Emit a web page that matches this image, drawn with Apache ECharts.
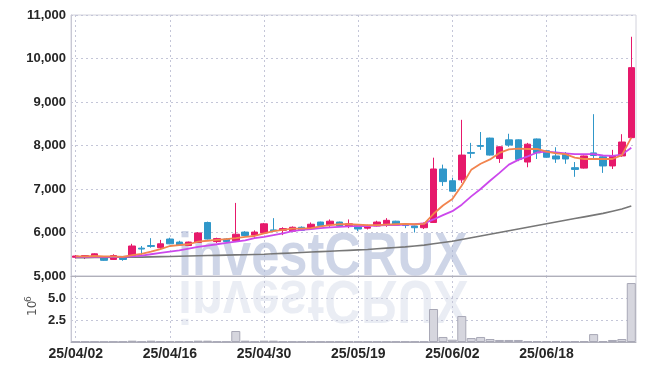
<!DOCTYPE html>
<html><head><meta charset="utf-8">
<script src="https://cdn.jsdelivr.net/npm/echarts@6/dist/echarts.min.js"></script>
<style>html,body{margin:0;padding:0;background:#fff}#c{width:645px;height:371px}</style>
</head><body><div id="c"></div>
<script>
const dates = ['25/04/02','25/04/03','25/04/04','25/04/07','25/04/08','25/04/09','25/04/10','25/04/11','25/04/14','25/04/15',
'25/04/16','25/04/17','25/04/18','25/04/21','25/04/22','25/04/23','25/04/24','25/04/25','25/04/28','25/04/29',
'25/04/30','25/05/02','25/05/07','25/05/08','25/05/09','25/05/12','25/05/13','25/05/14','25/05/15','25/05/16',
'25/05/19','25/05/20','25/05/21','25/05/22','25/05/23','25/05/26','25/05/27','25/05/28','25/05/29','25/05/30',
'25/06/02','25/06/04','25/06/05','25/06/09','25/06/10','25/06/11','25/06/12','25/06/13','25/06/16','25/06/17',
'25/06/18','25/06/19','25/06/20','25/06/23','25/06/24','25/06/25','25/06/26','25/06/27','25/06/30','25/07/01'];
const opens  = [5430,5440,5450,5430,5380,5450,5450,5640,5700,5650, 5850,5780,5700,5770,6230,5790,5850,5810,6010,5940,
                5990,6060,6050,6030,6120,6090,6240,6180,6240,6140, 6170,6100,6150,6200,6260,6190,6150,6110,6230,7460,
                7190,7210,7840,8000,8170,7700,8130,8130,7620,8150, 7880,7760,7800,7490,7480,7830,7740,7530,7760,8180];
const closes = [5460,5470,5510,5360,5470,5380,5690,5620,5680,5740, 5740,5710,5780,5990,5850,5860,5790,5960,5930,6010,
                6200,6040,6090,6120,6050,6190,6160,6260,6150,6200, 6080,6130,6240,6280,6170,6160,6110,6210,7460,7170,
                6950,7780,7820,7980,7780,7970,8010,7680,8030,7830, 7730,7690,7690,7450,7760,7770,7530,7760,8080,9790];
const lows   = [5400,5390,5440,5350,5370,5350,5440,5490,5650,5610, 5730,5700,5690,5760,5840,5760,5770,5780,5920,5880,
                5980,6030,5940,6010,6040,6080,6150,6130,6140,6100, 6030,6070,6140,6130,6160,6100,6000,6080,6220,7070,
                6940,7140,7710,7900,7770,7600,7970,7640,7500,7690, 7720,7600,7580,7280,7470,7680,7370,7460,7740,8170];
const highs  = [5480,5480,5520,5440,5500,5460,5740,5690,5870,5830, 5880,5810,5790,6010,6250,5880,5870,6680,6030,6050,
                6220,6330,6120,6140,6140,6230,6250,6300,6250,6300, 6180,6180,6270,6330,6270,6200,6160,6230,7720,7560,
                7260,8590,8060,8310,8180,7980,8270,8140,8060,8160, 7900,7960,7850,7620,7770,8720,7760,7900,8260,10500];
const ma5  = [5450,5450,5460,5450,5450,5440,5480,5510,5560,5620, 5690,5710,5730,5790,5810,5830,5850,5870,5900,5920,
              5980,6030,6060,6090,6090,6100,6140,6170,6190,6190, 6180,6170,6170,6180,6190,6200,6190,6200,6430,6620,
              6770,7080,7440,7580,7680,7830,7910,7930,7920,7920, 7860,7820,7800,7720,7690,7690,7690,7690,7780,8180];
const ma10 = [5440,5440,5440,5440,5440,5440,5450,5470,5500,5530, 5560,5590,5630,5670,5700,5730,5760,5790,5820,5870,
              5900,5940,5980,6030,6060,6080,6100,6120,6130,6140, 6150,6150,6160,6170,6170,6180,6190,6210,6300,6400,
              6490,6640,6830,7000,7190,7370,7560,7670,7750,7840, 7860,7840,7820,7800,7800,7800,7770,7760,7790,7950];
const maLong = [5420,5420,5425,5425,5430,5430,5435,5435,5440,5445, 5450,5455,5460,5465,5470,5475,5480,5485,5490,5495,
                5500,5510,5520,5530,5540,5550,5560,5570,5580,5590, 5600,5610,5625,5640,5655,5670,5690,5710,5740,5770,
                5800,5840,5880,5920,5960,6000,6040,6080,6120,6160, 6200,6240,6280,6320,6360,6400,6440,6490,6540,6610];
const volume = [0.05,0.05,0.05,0.04,0.05,0.05,0.15,0.05,0.15,0.06, 0.06,0.06,0.06,0.15,0.15,0.05,0.05,1.25,0.15,0.05,
                0.15,0.15,0.05,0.05,0.05,0.05,0.05,0.05,0.05,0.05, 0.05,0.05,0.05,0.05,0.05,0.05,0.05,0.05,3.75,0.57,
                0.26,2.95,0.45,0.57,0.34,0.23,0.23,0.23,0.11,0.11, 0.11,0.11,0.03,0.10,0.10,0.90,0.10,0.23,0.34,6.70];
const priceMin = 5000, priceMax = 11000, priceStep = 1000;
const volMin = 0, volMax = 7.5, volStep = 2.5;
const volUnitLabel = '10', volUnitExp = '6';
const watermark = 'investCRUX';

const candleData = dates.map((d, i) => [opens[i], closes[i], lows[i], highs[i]]);
const UP = '#e6196b', DOWN = '#3097c9';
const FONT = '"Liberation Sans", Arial, sans-serif';
const GL = 71, GR = 9;
const splitStyle = { type: [2, 3], color: '#c4c6d8', width: 1 };

const chart = echarts.init(document.getElementById('c'), null, { renderer: 'canvas' });
chart.setOption({
  animation: false,
  backgroundColor: '#fff',
  grid: [
    { left: GL, right: GR, top: 15, height: 261, show: true, borderColor: '#d2d2dc', borderWidth: 1 },
    { left: GL, right: GR, top: 276, height: 66, show: true, borderColor: '#d2d2dc', borderWidth: 1 }
  ],
  xAxis: [
    { type: 'category', gridIndex: 0, data: dates, boundaryGap: true,
      axisLabel: { show: false }, axisTick: { show: false },
      axisLine: { show: true, lineStyle: { color: '#b0b0ba' } },
      splitLine: { show: true, interval: 9, alignWithLabel: true, lineStyle: splitStyle } },
    { type: 'category', gridIndex: 1, data: dates, boundaryGap: true,
      axisTick: { show: false },
      axisLine: { show: true, lineStyle: { color: '#b0b0ba' } },
      axisLabel: { interval: 9, fontFamily: FONT, fontSize: 14, fontWeight: 'bold', color: '#262626', margin: 5 },
      splitLine: { show: true, interval: 9, alignWithLabel: true, lineStyle: splitStyle } }
  ],
  yAxis: [
    { type: 'value', gridIndex: 0, min: priceMin, max: priceMax, interval: priceStep,
      axisLine: { show: true, lineStyle: { color: '#c8c8d4' } }, axisTick: { show: false },
      axisLabel: { fontFamily: FONT, fontSize: 13, fontWeight: 'bold', color: '#262626', margin: 5,
        formatter: v => v.toLocaleString('en-US') },
      splitLine: { show: true, lineStyle: splitStyle } },
    { type: 'value', gridIndex: 1, min: volMin, max: volMax, interval: volStep,
      axisLine: { show: true, lineStyle: { color: '#c8c8d4' } }, axisTick: { show: false },
      axisLabel: { fontFamily: FONT, fontSize: 13, fontWeight: 'bold', color: '#262626', margin: 5,
        formatter: v => (v === volMin || v === volMax) ? '' : v.toFixed(1) },
      splitLine: { show: true, lineStyle: splitStyle } }
  ],
  graphic: [
    { type: 'text', z: 1, silent: true, scaleX: 0.83, originX: 178,
      style: { text: watermark, x: 178, y: 258, verticalAlign: 'middle',
        font: 'bold 61px ' + FONT, fill: 'rgba(165,178,212,0.55)' } },
    { type: 'group', z: 1, silent: true, scaleY: -1, scaleX: 0.83, originX: 178, originY: 278,
      children: [{ type: 'text', style: { text: watermark, x: 178, y: 258, verticalAlign: 'middle',
        font: 'bold 61px ' + FONT, fill: 'rgba(195,202,224,0.35)' } }] },
    { type: 'text', z: 3, silent: true, rotation: Math.PI / 2, x: 27, y: 316,
      style: { text: volUnitLabel, font: '12px "DejaVu Sans", sans-serif', fill: '#555' } },
    { type: 'text', z: 3, silent: true, rotation: Math.PI / 2, x: 24, y: 302,
      style: { text: volUnitExp, font: '9px "DejaVu Sans", sans-serif', fill: '#555' } }
  ],
  series: [
    { type: 'candlestick', xAxisIndex: 0, yAxisIndex: 0, data: candleData, barWidth: 7, z: 3,
      itemStyle: { color: UP, color0: DOWN, borderColor: UP, borderColor0: DOWN, borderWidth: 1 } },
    { type: 'line', xAxisIndex: 0, yAxisIndex: 0, data: maLong, symbol: 'none', z: 4,
      lineStyle: { color: '#777', width: 1.6 } },
    { type: 'line', xAxisIndex: 0, yAxisIndex: 0, data: ma10, symbol: 'none', z: 4,
      lineStyle: { color: '#cc48ec', width: 1.8 } },
    { type: 'line', xAxisIndex: 0, yAxisIndex: 0, data: ma5, symbol: 'none', z: 4,
      lineStyle: { color: '#f2844e', width: 1.8 } },
    { type: 'bar', xAxisIndex: 1, yAxisIndex: 1, data: volume, barCategoryGap: '4%', z: 3,
      itemStyle: { color: '#d6d6de', borderColor: '#a8a8b6', borderWidth: 1 } }
  ]
});
</script></body></html>
